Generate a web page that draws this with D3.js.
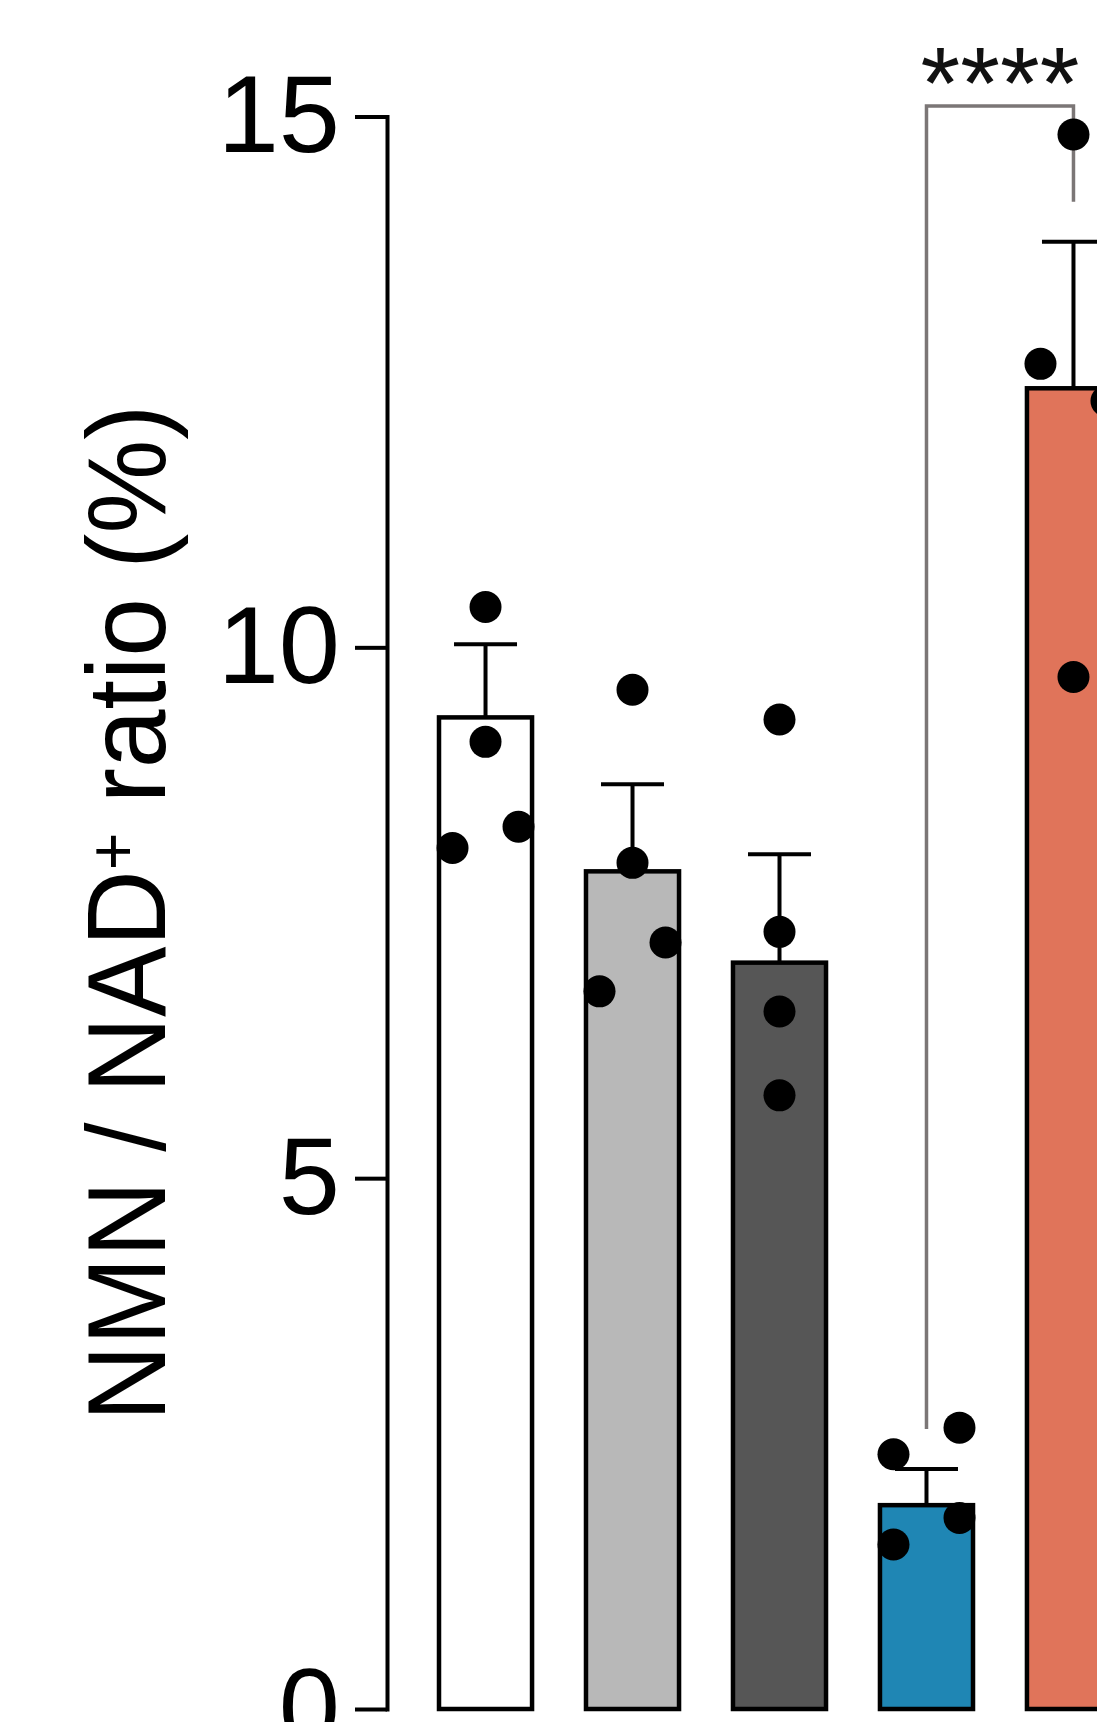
<!DOCTYPE html>
<html>
<head>
<meta charset="utf-8">
<script src="https://cdn.jsdelivr.net/npm/d3@7"></script>
<style>
  body { margin: 0; background: #fff; }
  svg { display: block; font-family: "Liberation Sans", Arial, sans-serif; }
</style>
</head>
<body>
<svg id="chart" width="1097" height="1722"></svg>
<script>
// values (NMN / NAD+ ratio, %)
var groups = ["G1", "G2", "G3", "G4", "G5"]
var means = [9.34, 7.89, 7.03, 1.92, 12.44]
var sems = [0.69, 0.82, 1.02, 0.34, 1.38]
var points = [
  [10.38, 9.11, 8.11, 8.31],
  [9.60, 7.97, 6.76, 7.22],
  [9.32, 7.32, 6.57, 5.78],
  [2.40, 2.65, 1.55, 1.80],
  [14.83, 12.67, 9.72, 12.32]
]
var yTicks = [0, 5, 10, 15]
var sigPairs = [{ a: "G4", b: "G5", label: "****", level: 15.1 }]

var fills = ["#ffffff", "#b8b8b8", "#565656", "#1f86b4", "#e0745a"]

var svg = d3.select("#chart")

var y = d3.scaleLinear()
  .domain([0, 15])
  .range([1709, 116.5])

var x = d3.scaleBand()
  .domain(groups)
  .range([439, 1120])
  .paddingInner(0.367)
  .paddingOuter(0)

var bw = x.bandwidth()
function cx(g) {
  return x(g) + bw / 2
}

// y axis
var axis = svg.append("g")
  .attr("transform", "translate(387,0)")
  .call(d3.axisLeft(y)
    .tickValues(yTicks)
    .tickSize(32)
    .tickSizeOuter(0)
    .tickPadding(15))

axis.select(".domain")
  .attr("stroke", "#000")
  .attr("stroke-width", 4)
  .attr("stroke-linecap", "square")
axis.selectAll(".tick line")
  .attr("stroke", "#000")
  .attr("stroke-width", 4)
axis.selectAll(".tick text")
  .attr("fill", "#000")
  .style("font-size", "110px")
  .style("font-family", "'Liberation Sans', Arial, sans-serif")

// axis title
var title = svg.append("text")
  .attr("transform", "translate(165,913) rotate(-90)")
  .attr("text-anchor", "middle")
  .attr("textLength", 1017)
  .attr("lengthAdjust", "spacingAndGlyphs")
  .style("font-size", "111px")
  .attr("fill", "#000")
title.append("tspan").text("NMN / NAD")
title.append("tspan")
  .attr("dy", -29)
  .style("font-size", "68px")
  .text("+")
title.append("tspan")
  .attr("dy", 29)
  .text(" ratio (%)")

// bars
svg.append("g")
  .selectAll("rect")
  .data(groups)
  .enter()
  .append("rect")
  .attr("x", function (d) { return x(d) })
  .attr("y", function (d, i) { return y(means[i]) })
  .attr("width", bw)
  .attr("height", function (d, i) { return y(0) - y(means[i]) })
  .attr("fill", function (d, i) { return fills[i] })
  .attr("stroke", "#000")
  .attr("stroke-width", 4.5)

// error bars (mean + SEM)
var capHalf = 31.5
var err = svg.append("g")
  .attr("stroke", "#000")
  .attr("stroke-width", 4)
  .selectAll("g")
  .data(groups)
  .enter()
  .append("g")
err.append("line")
  .attr("x1", function (d) { return cx(d) })
  .attr("x2", function (d) { return cx(d) })
  .attr("y1", function (d, i) { return y(means[i]) })
  .attr("y2", function (d, i) { return y(means[i] + sems[i]) })
err.append("line")
  .attr("x1", function (d) { return cx(d) - capHalf })
  .attr("x2", function (d) { return cx(d) + capHalf })
  .attr("y1", function (d, i) { return y(means[i] + sems[i]) })
  .attr("y2", function (d, i) { return y(means[i] + sems[i]) })

// significance bracket
var legGap = 40
sigPairs.forEach(function (s) {
  var ia = groups.indexOf(s.a),
    ib = groups.indexOf(s.b),
    xa = cx(s.a),
    xb = cx(s.b),
    top = y(s.level)
  svg.append("path")
    .attr("d", "M" + xa + "," + (y(means[ia] + sems[ia]) - legGap) +
      "V" + top + "H" + xb + "V" + (y(means[ib] + sems[ib]) - legGap))
    .attr("fill", "none")
    .attr("stroke", "#7b7676")
    .attr("stroke-width", 3.5)
  // asterisk glyphs sit high in the em box, so the baseline lies under the bracket
  svg.append("text")
    .attr("x", (xa + xb) / 2)
    .attr("y", top + 12)
    .attr("text-anchor", "middle")
    .style("font-size", "102px")
    .attr("fill", "#111")
    .text(s.label)
})

// individual points: values closer than rowGap share a row and are spread sideways
var rowGap = 0.55,
  spread = 33
var dots = []
points.forEach(function (vals, gi) {
  var order = d3.range(vals.length).sort(function (a, b) { return vals[a] - vals[b] })
  var rows = []
  order.forEach(function (k) {
    var last = rows[rows.length - 1]
    if (last && vals[k] - vals[last[last.length - 1]] < rowGap) last.push(k)
    else rows.push([k])
  })
  rows.forEach(function (row) {
    row.sort(function (a, b) { return a - b })
    row.forEach(function (k, j) {
      dots.push({
        g: groups[gi],
        v: vals[k],
        off: (j - (row.length - 1) / 2) * 2 * spread / Math.max(1, row.length - 1)
      })
    })
  })
})

svg.append("g")
  .selectAll("circle")
  .data(dots)
  .enter()
  .append("circle")
  .attr("cx", function (d) { return cx(d.g) + (d.off || 0) })
  .attr("cy", function (d) { return y(d.v) })
  .attr("r", 16)
  .attr("fill", "#000")
</script>
</body>
</html>
